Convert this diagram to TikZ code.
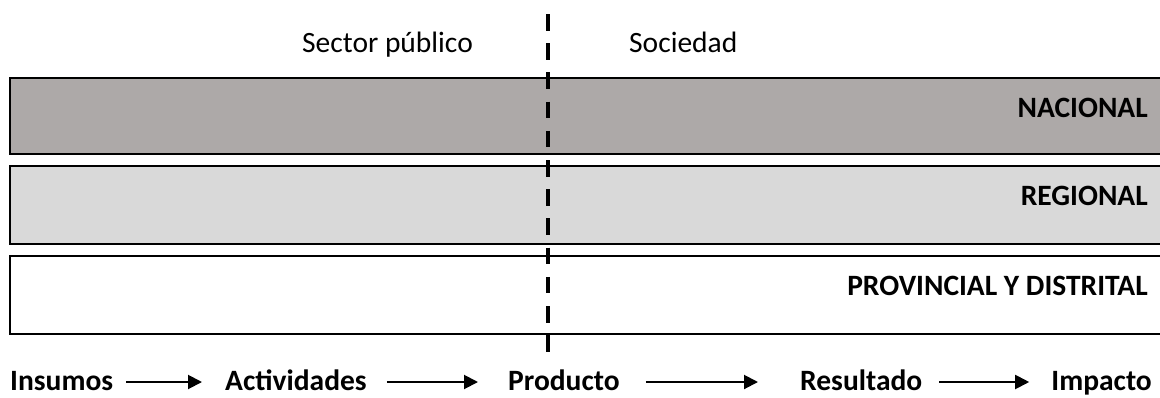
\documentclass[tikz,border=0pt]{standalone}
\usepackage{fontspec}
\setmainfont{Carlito}
\usetikzlibrary{arrows.meta}
\definecolor{bandA}{HTML}{ADA9A8}
\definecolor{bandB}{HTML}{D9D9D9}
\tikzset{
  band/.style={draw=black, line width=2pt},
  lbl/.style={inner sep=0pt, font=\fontsize{29.5}{35}\selectfont},
  blbl/.style={inner sep=0pt, font=\fontsize{29.5}{35}\selectfont\bfseries},
  arr/.style={line width=2pt, -{Triangle[length=14pt,width=14pt]}},
  divider/.style={line width=4pt, dash pattern=on 16.5pt off 12.7pt}
}
\begin{document}
\begin{tikzpicture}[x=1pt,y=-1pt]
\useasboundingbox (0,0) rectangle (1160,397);
% bands
\path[band, fill=bandA] (10,78) rectangle (1170,154);
\path[band, fill=bandB] (10,166) rectangle (1170,244);
\path[band, fill=white] (10,256) rectangle (1170,334);
\node[blbl, anchor=base east] (nac) at (1148,117) {NACIONAL};
\node[blbl, anchor=base east] (reg) at (1148,205) {REGIONAL};
\node[blbl, anchor=base east] (pro) at (1148,295) {PROVINCIAL Y DISTRITAL};
% top labels
\node[lbl, anchor=base west] (sp) at (302,52) {Sector público};
\node[lbl, anchor=base west] (so) at (629,52) {Sociedad};
% divider
\coordinate (dtop) at (548,14);
\coordinate (dbot) at (548,352);
\draw[divider] (dtop) -- (dbot);
% bottom chain
\node[blbl, anchor=base west] (ins) at (10,390) {Insumos};
\node[blbl, anchor=base west] (act) at (225,390) {Actividades};
\node[blbl, anchor=base west] (prd) at (508,390) {Producto};
\node[blbl, anchor=base west] (res) at (800,390) {Resultado};
\node[blbl, anchor=base east] (imp) at (1152,390) {Impacto};
\draw[arr, shorten <=13pt, shorten >=23pt] (ins.east |- 0,382) -- (act.west |- 0,382);
\draw[arr, shorten <=20pt, shorten >=30pt] (act.east |- 0,382) -- (prd.west |- 0,382);
\draw[arr, shorten <=26pt, shorten >=42pt] (prd.east |- 0,382) -- (res.west |- 0,382);
\draw[arr, shorten <=17pt, shorten >=22pt] (res.east |- 0,382) -- (imp.west |- 0,382);
\end{tikzpicture}
\end{document}
